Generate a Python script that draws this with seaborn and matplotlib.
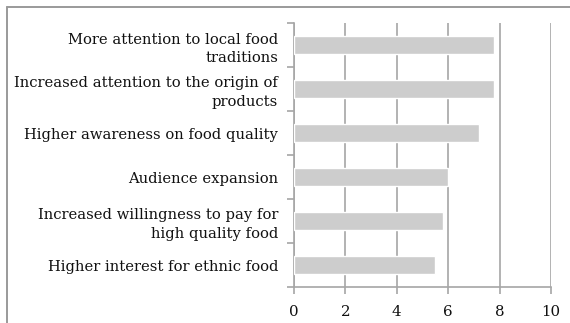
import matplotlib
matplotlib.use("Agg")
import matplotlib.pyplot as plt
import seaborn as sns
import pandas as pd
from matplotlib.lines import Line2D

categories = [
    "More attention to local food\ntraditions",
    "Increased attention to the origin of\nproducts",
    "Higher awareness on food quality",
    "Audience expansion",
    "Increased willingness to pay for\nhigh quality food",
    "Higher interest for ethnic food",
]
values = [7.8, 7.8, 7.2, 6.0, 5.8, 5.5]
x_ticks = [0, 2, 4, 6, 8, 10]

df = pd.DataFrame({"category": categories, "value": values})

sns.set_style("white")
plt.rcParams["font.family"] = ["DejaVu Serif"]

fig = plt.figure(figsize=(5.70, 3.23), dpi=100)
ax = fig.add_axes([294 / 570, 1 - 287 / 323, 257 / 570, 264 / 323])

grid_color = "#a6a6a6"
sns.barplot(data=df, x="value", y="category", orient="h", color="#cdcdcd",
            saturation=1, width=0.4, ax=ax, zorder=3)

ax.set_xlim(0, 10)
ax.set_ylim(len(categories) - 0.5, -0.5)
ax.set_xticks(x_ticks)
ax.set_xticklabels([str(t) for t in x_ticks])
ax.xaxis.grid(True, color=grid_color, linewidth=1.2, zorder=0)
ax.set_axisbelow(True)

# category labels sit between boundary ticks, Excel style
ax.set_yticks(range(len(categories)))
ax.set_yticklabels(categories, ha="right", linespacing=1.45)
ax.set_yticks([i - 0.5 for i in range(len(categories) + 1)], minor=True)
ax.tick_params(axis="y", which="major", left=False, length=0, pad=11.5,
               labelsize=10.6, labelcolor="#111111")
ax.tick_params(axis="y", which="minor", left=True, length=5, width=1.2,
               color=grid_color, direction="out")
ax.tick_params(axis="x", which="major", bottom=True, length=5, width=1.2,
               color=grid_color, pad=8, labelsize=10.8, labelcolor="#111111",
               direction="out")

for side in ["top", "right"]:
    ax.spines[side].set_visible(False)
for side in ["left", "bottom"]:
    ax.spines[side].set_color(grid_color)
    ax.spines[side].set_linewidth(1.2)

ax.set_xlabel("")
ax.set_ylabel("")

# outer chart frame (top and left edges)
frame_color = "#9a9a9a"
fig.add_artist(Line2D([7 / 570, 1.0], [1 - 7 / 323, 1 - 7 / 323],
                      transform=fig.transFigure, color=frame_color, linewidth=1.4))
fig.add_artist(Line2D([7 / 570, 7 / 570], [0.0, 1 - 7 / 323],
                      transform=fig.transFigure, color=frame_color, linewidth=1.4))

fig.savefig("out.png", dpi=100)
